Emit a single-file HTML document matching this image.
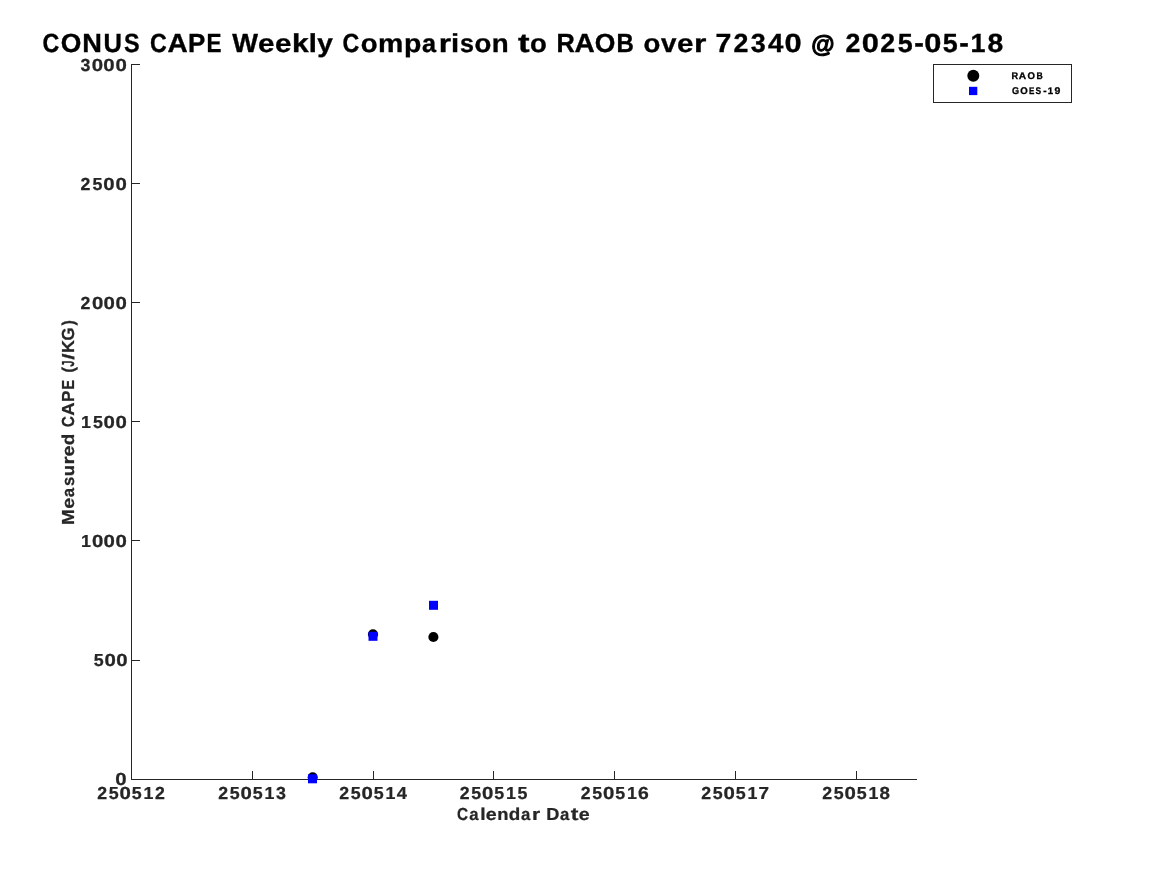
<!DOCTYPE html>
<html>
<head>
<meta charset="utf-8">
<title>CONUS CAPE Weekly Comparison to RAOB over 72340 @ 2025-05-18</title>
<style>
html,body{margin:0;padding:0;background:#fff;width:1167px;height:875px;overflow:hidden}
svg{position:absolute;left:0;top:0;display:block;will-change:transform}
text{text-rendering:geometricPrecision;font-family:"Liberation Sans",sans-serif;font-weight:bold}
</style>
</head>
<body>
<svg width="1167" height="875" viewBox="0 0 1167 875">
<rect x="0" y="0" width="1167" height="875" fill="#fff"/>
<g stroke="#262626" stroke-width="1" fill="none" shape-rendering="crispEdges">
<path d="M131.5 64 V779.5 H917"/>
<path d="M131 64.5 H140 M131 183.5 H140 M131 302.5 H140 M131 421.5 H140 M131 540.5 H140 M131 660.5 H140"/>
<path d="M252.5 771 V779 M373.5 771 V779 M493.5 771 V779 M614.5 771 V779 M735.5 771 V779 M856.5 771 V779"/>
</g>
<g fill="#000">
<circle cx="312.7" cy="777.3" r="5.05"/>
<circle cx="373" cy="634.2" r="5.05"/>
<circle cx="433.4" cy="637" r="5.05"/>
</g>
<g fill="#0000ff">
<rect x="308" y="774.3" width="9" height="9"/>
<rect x="368.5" y="631.8" width="9" height="9"/>
<rect x="429" y="600.8" width="9" height="9"/>
</g>
<rect x="933.5" y="64.5" width="138" height="38" fill="#fff" stroke="#262626" stroke-width="1" shape-rendering="crispEdges"/>
<circle cx="973.3" cy="75.7" r="6" fill="#000"/>
<rect x="969" y="86.8" width="8.3" height="8.3" fill="#0000ff"/>
<g fill="#000" stroke="#000" stroke-width="0.35" font-size="26.25"><text transform="matrix(0.883 0 0 1.003 42.47 52)">C</text><text transform="matrix(1.009 0 0 1.003 60.678 52)">O</text><text transform="matrix(1.036 0 0 0.999 82.245 52)">N</text><text transform="matrix(0.974 0 0 0.999 103.451 52)">U</text><text transform="matrix(0.892 0 0 1.003 124.107 52)">S</text> <text transform="matrix(0.883 0 0 1.003 150.001 52)">C</text><text transform="matrix(1.065 0 0 0.999 167.476 52)">A</text><text transform="matrix(0.986 0 0 0.999 187.957 52)">P</text><text transform="matrix(0.856 0 0 0.999 206.514 52)">E</text> <text transform="matrix(1.039 0 0 0.999 232.221 52)">W</text><text transform="matrix(1.13 0 0 0.979 258.106 52)">e</text><text transform="matrix(1.13 0 0 0.979 275.059 52)">e</text><text transform="matrix(1.145 0 0 0.989 292.097 52)">k</text><text transform="matrix(1.116 0 0 0.989 308.776 52)">l</text><text transform="matrix(1.066 0 0 0.973 317.371 52)">y</text> <text transform="matrix(0.883 0 0 1.003 342.579 52)">C</text><text transform="matrix(1.05 0 0 0.979 360.642 52)">o</text><text transform="matrix(1.083 0 0 0.978 378.016 52)">m</text><text transform="matrix(1.083 0 0 0.976 404.088 52)">p</text><text transform="matrix(0.963 0 0 0.979 422.087 52)">a</text><text transform="matrix(1.212 0 0 0.978 438.63 52)">r</text><text transform="matrix(1.116 0 0 0.989 451.01 52)">i</text><text transform="matrix(0.957 0 0 0.978 459.93 52)">s</text><text transform="matrix(1.05 0 0 0.979 474.407 52)">o</text><text transform="matrix(1.057 0 0 0.978 491.852 52)">n</text> <text transform="matrix(1.321 0 0 1.015 517.988 52)">t</text><text transform="matrix(1.05 0 0 0.979 530.032 52)">o</text> <text transform="matrix(0.967 0 0 0.999 556.507 52)">R</text><text transform="matrix(1.065 0 0 0.999 574.585 52)">A</text><text transform="matrix(1.009 0 0 1.003 594.678 52)">O</text><text transform="matrix(0.915 0 0 0.999 616.456 52)">B</text> <text transform="matrix(1.05 0 0 0.979 643.517 52)">o</text><text transform="matrix(1.057 0 0 0.973 660.961 52)">v</text><text transform="matrix(1.13 0 0 0.979 676.903 52)">e</text><text transform="matrix(1.212 0 0 0.978 693.958 52)">r</text> <text transform="matrix(1.086 0 0 0.999 715.434 52)">7</text><text transform="matrix(1.02 0 0 1.003 733.427 52)">2</text><text transform="matrix(1.026 0 0 1.003 750.823 52)">3</text><text transform="matrix(1.051 0 0 0.999 767.881 52)">4</text><text transform="matrix(1.174 0 0 1.003 784.543 52)">0</text> <text transform="matrix(0.907 0 0 0.914 811.321 52)" stroke-width="1.1">@</text> <text transform="matrix(1.02 0 0 1.003 845.412 52)">2</text><text transform="matrix(1.174 0 0 1.003 861.731 52)">0</text><text transform="matrix(1.02 0 0 1.003 880.208 52)">2</text><text transform="matrix(1.024 0 0 0.999 897.652 52)">5</text><text transform="matrix(1.098 0 0 1.051 914.17 52)">-</text><text transform="matrix(1.174 0 0 1.003 924.293 52)">0</text><text transform="matrix(1.024 0 0 0.999 942.824 52)">5</text><text transform="matrix(1.098 0 0 1.051 959.342 52)">-</text><text transform="matrix(1.024 0 0 0.999 970.615 52)">1</text><text transform="matrix(1.078 0 0 1.003 987.506 52)">8</text></g>
<g fill="#262626" stroke="#262626" stroke-width="0.25" font-size="17.43"><text transform="matrix(1.024 0 0 1.002 80.506 71)">3</text><text transform="matrix(1.172 0 0 1.002 91.687 71)">0</text><text transform="matrix(1.172 0 0 1.002 103.187 71)">0</text><text transform="matrix(1.172 0 0 1.002 115.437 71)">0</text></g>
<g fill="#262626" stroke="#262626" stroke-width="0.25" font-size="17.43"><text transform="matrix(1.018 0 0 1.002 80.563 190)">2</text><text transform="matrix(1.022 0 0 0.999 92.572 190)">5</text><text transform="matrix(1.172 0 0 1.002 103.287 190)">0</text><text transform="matrix(1.172 0 0 1.002 115.437 190)">0</text></g>
<g fill="#262626" stroke="#262626" stroke-width="0.25" font-size="17.43"><text transform="matrix(1.018 0 0 1.002 80.563 309)">2</text><text transform="matrix(1.172 0 0 1.002 91.887 309)">0</text><text transform="matrix(1.172 0 0 1.002 103.387 309)">0</text><text transform="matrix(1.172 0 0 1.002 115.437 309)">0</text></g>
<g fill="#262626" stroke="#262626" stroke-width="0.25" font-size="17.43"><text transform="matrix(1.021 0 0 0.999 81.036 428)">1</text><text transform="matrix(1.022 0 0 0.999 92.972 428)">5</text><text transform="matrix(1.172 0 0 1.002 103.537 428)">0</text><text transform="matrix(1.172 0 0 1.002 115.437 428)">0</text></g>
<g fill="#262626" stroke="#262626" stroke-width="0.25" font-size="17.43"><text transform="matrix(1.021 0 0 0.999 81.036 547)">1</text><text transform="matrix(1.172 0 0 1.002 92.087 547)">0</text><text transform="matrix(1.172 0 0 1.002 103.437 547)">0</text><text transform="matrix(1.172 0 0 1.002 115.437 547)">0</text></g>
<g fill="#262626" stroke="#262626" stroke-width="0.25" font-size="17.43"><text transform="matrix(1.022 0 0 0.999 93.772 666)">5</text><text transform="matrix(1.172 0 0 1.002 104.587 666)">0</text><text transform="matrix(1.172 0 0 1.002 116.337 666)">0</text></g>
<g fill="#262626" stroke="#262626" stroke-width="0.25" font-size="17.43"><text transform="matrix(1.172 0 0 1.002 115.287 785)">0</text></g>
<g fill="#262626" stroke="#262626" stroke-width="0.25" font-size="17.43"><text transform="matrix(1.018 0 0 1.002 97.182 799)">2</text><text transform="matrix(1.022 0 0 0.999 108.748 799)">5</text><text transform="matrix(1.172 0 0 1.002 119.549 799)">0</text><text transform="matrix(1.022 0 0 0.999 131.842 799)">5</text><text transform="matrix(1.021 0 0 0.999 143.407 799)">1</text><text transform="matrix(1.018 0 0 1.002 154.901 799)">2</text></g>
<g fill="#262626" stroke="#262626" stroke-width="0.25" font-size="17.43"><text transform="matrix(1.018 0 0 1.002 218.182 799)">2</text><text transform="matrix(1.022 0 0 0.999 229.748 799)">5</text><text transform="matrix(1.172 0 0 1.002 240.549 799)">0</text><text transform="matrix(1.022 0 0 0.999 252.842 799)">5</text><text transform="matrix(1.021 0 0 0.999 264.407 799)">1</text><text transform="matrix(1.024 0 0 1.002 275.904 799)">3</text></g>
<g fill="#262626" stroke="#262626" stroke-width="0.25" font-size="17.43"><text transform="matrix(1.018 0 0 1.002 339.182 799)">2</text><text transform="matrix(1.022 0 0 0.999 350.748 799)">5</text><text transform="matrix(1.172 0 0 1.002 361.549 799)">0</text><text transform="matrix(1.022 0 0 0.999 373.842 799)">5</text><text transform="matrix(1.021 0 0 0.999 385.407 799)">1</text><text transform="matrix(1.049 0 0 0.999 396.672 799)">4</text></g>
<g fill="#262626" stroke="#262626" stroke-width="0.25" font-size="17.43"><text transform="matrix(1.018 0 0 1.002 459.682 799)">2</text><text transform="matrix(1.022 0 0 0.999 471.248 799)">5</text><text transform="matrix(1.172 0 0 1.002 482.049 799)">0</text><text transform="matrix(1.022 0 0 0.999 494.342 799)">5</text><text transform="matrix(1.021 0 0 0.999 505.907 799)">1</text><text transform="matrix(1.022 0 0 0.999 517.436 799)">5</text></g>
<g fill="#262626" stroke="#262626" stroke-width="0.25" font-size="17.43"><text transform="matrix(1.018 0 0 1.002 580.682 799)">2</text><text transform="matrix(1.022 0 0 0.999 592.248 799)">5</text><text transform="matrix(1.172 0 0 1.002 603.049 799)">0</text><text transform="matrix(1.022 0 0 0.999 615.342 799)">5</text><text transform="matrix(1.021 0 0 0.999 626.907 799)">1</text><text transform="matrix(1.113 0 0 1.001 638.022 799)">6</text></g>
<g fill="#262626" stroke="#262626" stroke-width="0.25" font-size="17.43"><text transform="matrix(1.018 0 0 1.002 701.182 799)">2</text><text transform="matrix(1.022 0 0 0.999 712.748 799)">5</text><text transform="matrix(1.172 0 0 1.002 723.549 799)">0</text><text transform="matrix(1.022 0 0 0.999 735.842 799)">5</text><text transform="matrix(1.021 0 0 0.999 747.407 799)">1</text><text transform="matrix(1.084 0 0 0.999 758.501 799)">7</text></g>
<g fill="#262626" stroke="#262626" stroke-width="0.25" font-size="17.43"><text transform="matrix(1.018 0 0 1.002 822.182 799)">2</text><text transform="matrix(1.022 0 0 0.999 833.748 799)">5</text><text transform="matrix(1.172 0 0 1.002 844.549 799)">0</text><text transform="matrix(1.022 0 0 0.999 856.842 799)">5</text><text transform="matrix(1.021 0 0 0.999 868.407 799)">1</text><text transform="matrix(1.076 0 0 1.002 879.621 799)">8</text></g>
<g fill="#262626" stroke="#262626" stroke-width="0.25" font-size="17.43"><text transform="matrix(0.881 0 0 1.002 456.958 820)">C</text><text transform="matrix(0.961 0 0 0.978 469.155 820)">a</text><text transform="matrix(1.109 0 0 0.989 480.181 820)">l</text><text transform="matrix(1.128 0 0 0.978 485.769 820)">e</text><text transform="matrix(1.055 0 0 0.977 497.256 820)">n</text><text transform="matrix(1.081 0 0 0.989 508.859 820)">d</text><text transform="matrix(0.961 0 0 0.978 520.983 820)">a</text><text transform="matrix(1.209 0 0 0.977 531.969 820)">r</text> <text transform="matrix(1.042 0 0 0.999 546.226 820)">D</text><text transform="matrix(0.961 0 0 0.978 559.921 820)">a</text><text transform="matrix(1.317 0 0 1.014 570.824 820)">t</text><text transform="matrix(1.128 0 0 0.978 578.769 820)">e</text></g>
<g fill="#262626" stroke="#262626" stroke-width="0.25" font-size="17.43" transform="translate(74,422.4) rotate(-90)"><text transform="matrix(1.084 0 0 0.999 -102.584 0)">M</text><text transform="matrix(1.128 0 0 0.978 -86.398 0)">e</text><text transform="matrix(0.961 0 0 0.978 -74.856 0)">a</text><text transform="matrix(0.954 0 0 0.977 -63.616 0)">s</text><text transform="matrix(1.055 0 0 0.972 -53.859 0)">u</text><text transform="matrix(1.209 0 0 0.977 -42.198 0)">r</text><text transform="matrix(1.128 0 0 0.978 -34.07 0)">e</text><text transform="matrix(1.081 0 0 0.989 -22.793 0)">d</text> <text transform="matrix(0.881 0 0 1.002 -4.913 0)">C</text><text transform="matrix(1.063 0 0 0.999 6.698 0)">A</text><text transform="matrix(0.985 0 0 0.999 20.298 0)">P</text><text transform="matrix(0.854 0 0 0.999 32.606 0)">E</text> <text transform="matrix(0.931 0 0 0.987 49.806 0)">(</text><text transform="matrix(0.647 0 0 0.999 55.679 0)">J</text><text transform="matrix(1.291 0 0 0.948 62.733 0)">/</text><text transform="matrix(1.03 0 0 0.999 69.339 0)">K</text><text transform="matrix(0.963 0 0 1.002 82.013 0)">G</text><text transform="matrix(0.931 0 0 0.987 96.798 0)">)</text></g>
<g fill="#000" stroke="#000" stroke-width="0.3" font-size="9.765"><text transform="matrix(0.939 0 0 0.987 1011.526 79)">R</text><text transform="matrix(1.039 0 0 0.987 1018.844 79)">A</text><text transform="matrix(0.984 0 0 0.99 1027.418 79)">O</text><text transform="matrix(0.887 0 0 0.987 1036.58 79)">B</text></g>
<g fill="#000" stroke="#000" stroke-width="0.3" font-size="9.765"><text transform="matrix(0.939 0 0 0.99 1011.982 94)">G</text><text transform="matrix(0.984 0 0 0.99 1020.218 94)">O</text><text transform="matrix(0.825 0 0 0.987 1029.052 94)">E</text><text transform="matrix(0.863 0 0 0.99 1035.583 94)">S</text><text transform="matrix(1.029 0 0 1.024 1043.182 94)">-</text><text transform="matrix(0.986 0 0 0.987 1047.853 94)">1</text><text transform="matrix(1.077 0 0 0.989 1054.538 94)">9</text></g>
</svg>
</body>
</html>
